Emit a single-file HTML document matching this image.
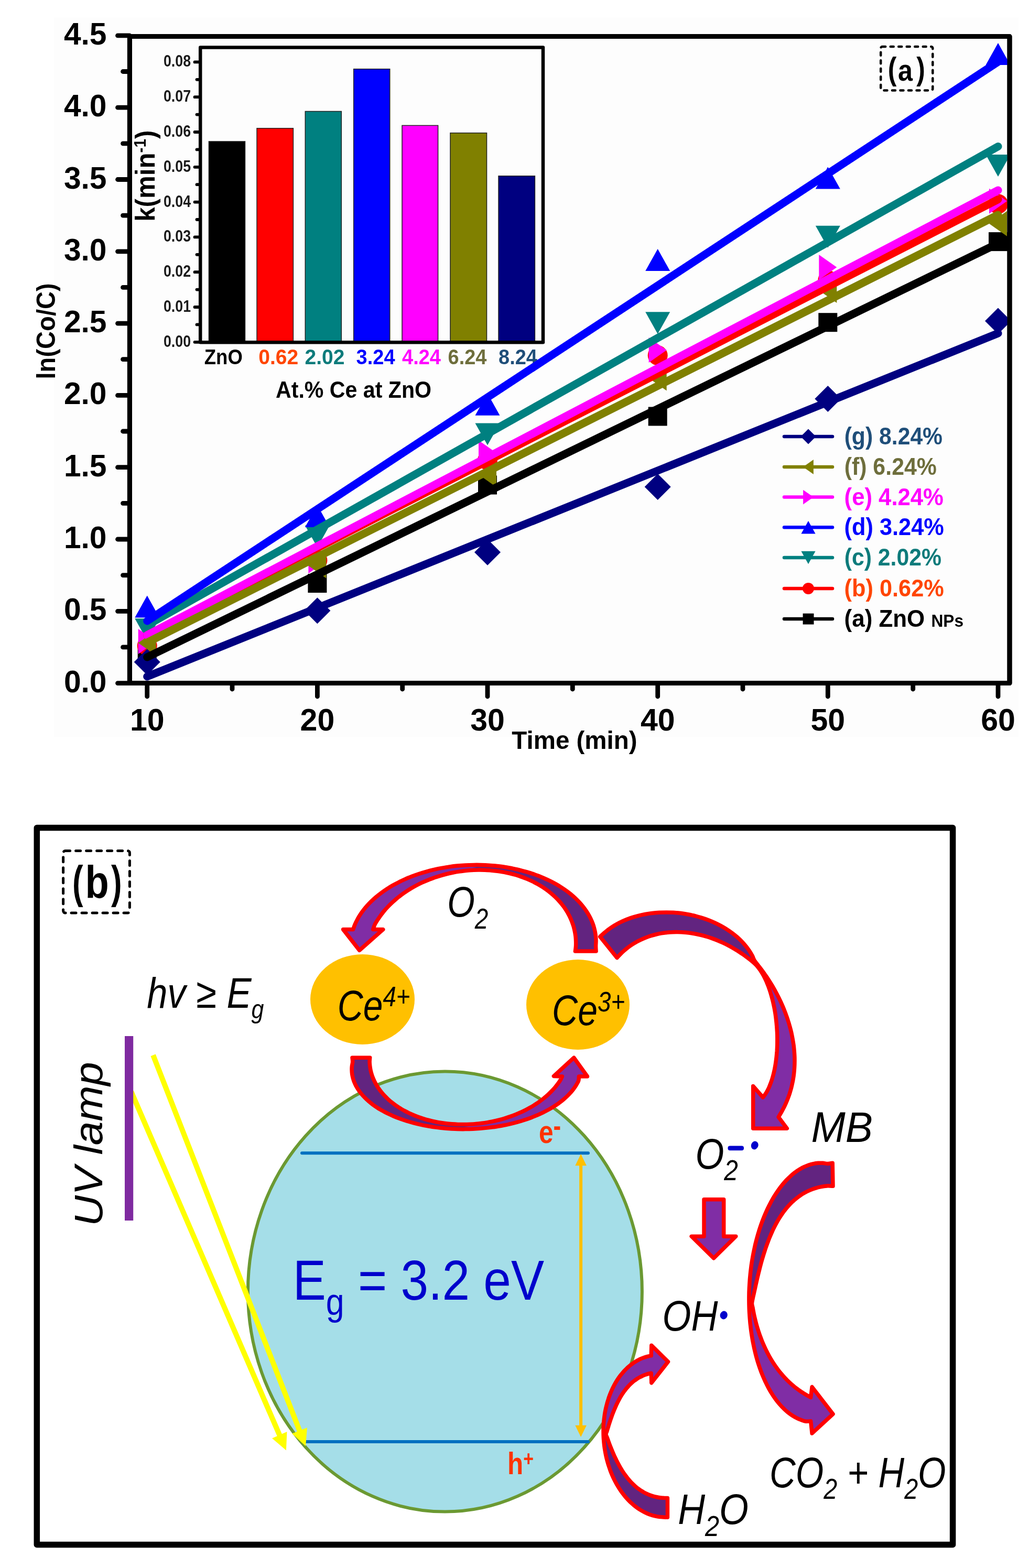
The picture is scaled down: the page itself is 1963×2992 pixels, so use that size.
<!DOCTYPE html>
<html><head><meta charset="utf-8"><title>Figure</title>
<style>html,body{margin:0;padding:0;background:#fff;}svg{display:block;}</style></head>
<body><svg xmlns="http://www.w3.org/2000/svg" width="1963" height="2992" viewBox="0 0 1963 2992">
<rect width="1963" height="2992" fill="#fff"/>
<rect x="103" y="33" width="1840" height="1373" fill="#fdfdfd"/>
<g stroke="#222" stroke-width="1.5">
<rect x="398.4" y="269.9" width="69.1" height="382.9" fill="#000000"/>
<rect x="490.0" y="244.8" width="69.4" height="408.0" fill="#ff0000"/>
<rect x="582.3" y="212.5" width="69.0" height="440.3" fill="#008080"/>
<rect x="674.7" y="131.7" width="69.0" height="521.1" fill="#0000ff"/>
<rect x="767.0" y="239.4" width="68.6" height="413.4" fill="#ff00ff"/>
<rect x="859.0" y="253.7" width="69.5" height="399.1" fill="#808000"/>
<rect x="951.0" y="335.8" width="69.4" height="317.0" fill="#000080"/>
</g>
<rect x="382.2" y="90.5" width="653.8" height="562.7" fill="none" stroke="#000" stroke-width="6.5" stroke-linejoin="round"/>
<path d="M382 652.8H371.5 M382 619.4H375.5 M382 586.0H371.5 M382 552.6H375.5 M382 519.2H371.5 M382 485.8H375.5 M382 452.4H371.5 M382 419.0H375.5 M382 385.6H371.5 M382 352.2H375.5 M382 318.8H371.5 M382 285.4H375.5 M382 252.0H371.5 M382 218.6H375.5 M382 185.2H371.5 M382 151.8H375.5 M382 118.4H371.5" stroke="#000" stroke-width="5.8" stroke-linecap="round"/>
<g font-family="'Liberation Sans', Arial, sans-serif" font-weight="bold" font-size="31" fill="#1a1a1a" text-anchor="end">
<text x="364" y="661.8" textLength="52" lengthAdjust="spacingAndGlyphs">0.00</text>
<text x="364" y="595.0" textLength="52" lengthAdjust="spacingAndGlyphs">0.01</text>
<text x="364" y="528.2" textLength="52" lengthAdjust="spacingAndGlyphs">0.02</text>
<text x="364" y="461.4" textLength="52" lengthAdjust="spacingAndGlyphs">0.03</text>
<text x="364" y="394.6" textLength="52" lengthAdjust="spacingAndGlyphs">0.04</text>
<text x="364" y="327.8" textLength="52" lengthAdjust="spacingAndGlyphs">0.05</text>
<text x="364" y="261.0" textLength="52" lengthAdjust="spacingAndGlyphs">0.06</text>
<text x="364" y="194.2" textLength="52" lengthAdjust="spacingAndGlyphs">0.07</text>
<text x="364" y="127.4" textLength="52" lengthAdjust="spacingAndGlyphs">0.08</text>
</g>
<text transform="translate(295.2,422.79) rotate(-90) scale(0.9472,1)" font-family="'Liberation Sans', Arial, sans-serif" font-weight="bold" fill="#000"><tspan font-size="52" dy="0">k(min</tspan><tspan font-size="31.5" dy="-17">-1</tspan><tspan font-size="52" dy="17">)</tspan></text>
<g font-family="'Liberation Sans', Arial, sans-serif" font-weight="bold" font-size="39.8">
<text x="389.8" y="694.5" fill="#000000" textLength="73" lengthAdjust="spacingAndGlyphs">ZnO</text>
<text x="493.3" y="694.5" fill="#ff4500" textLength="76" lengthAdjust="spacingAndGlyphs">0.62</text>
<text x="581.5" y="694.5" fill="#0e7b7b" textLength="76" lengthAdjust="spacingAndGlyphs">2.02</text>
<text x="679.6" y="694.5" fill="#0000ff" textLength="74" lengthAdjust="spacingAndGlyphs">3.24</text>
<text x="767" y="694.5" fill="#ff00ff" textLength="74" lengthAdjust="spacingAndGlyphs">4.24</text>
<text x="854.5" y="694.5" fill="#6e6e3c" textLength="74" lengthAdjust="spacingAndGlyphs">6.24</text>
<text x="951" y="694.5" fill="#1f4e79" textLength="74" lengthAdjust="spacingAndGlyphs">8.24</text>
</g>
<text x="526" y="759.4" font-family="'Liberation Sans', Arial, sans-serif" font-weight="bold" font-size="43.5" fill="#000" textLength="297" lengthAdjust="spacingAndGlyphs">At.% Ce at ZnO</text>
<path d="M247.4 69.6H1926V1303.6H247.4Z" fill="none" stroke="#000" stroke-width="9" stroke-linejoin="round"/>
<path d="M247 1303.6H224.5 M247 1234.9H234.5 M247 1166.3H224.5 M247 1097.6H234.5 M247 1029.0H224.5 M247 960.3H234.5 M247 891.7H224.5 M247 823.0H234.5 M247 754.4H224.5 M247 685.7H234.5 M247 617.1H224.5 M247 548.4H234.5 M247 479.8H224.5 M247 411.1H234.5 M247 342.5H224.5 M247 273.8H234.5 M247 205.2H224.5 M247 136.5H234.5 M247 67.9H224.5 M280.7 1303.6V1329 M443.0 1303.6V1315 M605.4 1303.6V1329 M767.7 1303.6V1315 M930.0 1303.6V1329 M1092.3 1303.6V1315 M1254.7 1303.6V1329 M1417.0 1303.6V1315 M1579.3 1303.6V1329 M1741.7 1303.6V1315 M1904.0 1303.6V1329" stroke="#000" stroke-width="8.8" stroke-linecap="round"/>
<g font-family="'Liberation Sans', Arial, sans-serif" font-weight="bold" font-size="58.7" text-anchor="end" fill="#000">
<text x="203.5" y="1320.6">0.0</text>
<text x="203.5" y="1183.3">0.5</text>
<text x="203.5" y="1046.0">1.0</text>
<text x="203.5" y="908.7">1.5</text>
<text x="203.5" y="771.4">2.0</text>
<text x="203.5" y="634.1">2.5</text>
<text x="203.5" y="496.8">3.0</text>
<text x="203.5" y="359.5">3.5</text>
<text x="203.5" y="222.2">4.0</text>
<text x="203.5" y="84.9">4.5</text>
</g>
<g font-family="'Liberation Sans', Arial, sans-serif" font-weight="bold" font-size="59" text-anchor="middle" fill="#000">
<text x="280.7" y="1394">10</text>
<text x="605.4" y="1394">20</text>
<text x="930.0" y="1394">30</text>
<text x="1254.7" y="1394">40</text>
<text x="1579.3" y="1394">50</text>
<text x="1904.0" y="1394">60</text>
</g>
<text transform="translate(104.6,723.49) rotate(-90) scale(0.9297,1)" font-family="'Liberation Sans', Arial, sans-serif" font-weight="bold" fill="#000"><tspan font-size="50.7" dy="0">ln(Co/C)</tspan></text>
<text x="1096" y="1429" font-family="'Liberation Sans', Arial, sans-serif" font-weight="bold" font-size="47.5" text-anchor="middle" fill="#000">Time (min)</text>
<rect x="1680.2" y="89" width="99.1" height="83.4" rx="3" fill="none" stroke="#000" stroke-width="4.5" stroke-dasharray="6 9.5" stroke-linecap="round"/>
<text transform="translate(1693.85,152.0) scale(0.8176,1)" font-family="'Liberation Sans', Arial, sans-serif" font-weight="bold" fill="#000"><tspan font-size="61" dy="0">(</tspan></text>
<text transform="translate(1712.96,153.5) scale(0.8677,1)" font-family="'Liberation Sans', Arial, sans-serif" font-weight="bold" fill="#000"><tspan font-size="58" dy="0">a</tspan></text>
<text transform="translate(1748.30,152.0) scale(0.8176,1)" font-family="'Liberation Sans', Arial, sans-serif" font-weight="bold" fill="#000"><tspan font-size="61" dy="0">)</tspan></text>
<defs><clipPath id="pc"><rect x="251" y="73.4" width="1671" height="1226"/></clipPath></defs>
<g clip-path="url(#pc)">
<rect x="262.7" y="1230.7" width="36.0" height="36.0" fill="#000000"/>
<rect x="587.4" y="1095.0" width="36.0" height="36.0" fill="#000000"/>
<rect x="912.0" y="907.5" width="36.0" height="36.0" fill="#000000"/>
<rect x="1236.7" y="776.5" width="36.0" height="36.0" fill="#000000"/>
<rect x="1561.3" y="597.2" width="36.0" height="36.0" fill="#000000"/>
<rect x="1886.0" y="443.1" width="36.0" height="36.0" fill="#000000"/>
<circle cx="280.7" cy="1232.2" r="19.0" fill="#ff0000"/>
<circle cx="605.4" cy="1069.1" r="19.0" fill="#ff0000"/>
<circle cx="930.0" cy="878.0" r="19.0" fill="#ff0000"/>
<circle cx="1254.7" cy="678.1" r="19.0" fill="#ff0000"/>
<circle cx="1579.3" cy="534.7" r="19.0" fill="#ff0000"/>
<circle cx="1904.0" cy="389.2" r="19.0" fill="#ff0000"/>
<polygon points="280.7,1222.2 304.2,1180.2 257.2,1180.2" fill="#008080"/>
<polygon points="605.4,1044.5 628.9,1002.5 581.9,1002.5" fill="#008080"/>
<polygon points="930.0,849.5 953.5,807.5 906.5,807.5" fill="#008080"/>
<polygon points="1254.7,637.3 1278.2,595.3 1231.2,595.3" fill="#008080"/>
<polygon points="1579.3,472.8 1602.8,430.8 1555.8,430.8" fill="#008080"/>
<polygon points="1904.0,336.9 1927.5,294.9 1880.5,294.9" fill="#008080"/>
<polygon points="280.7,1136.5 304.2,1178.5 257.2,1178.5" fill="#0000ff"/>
<polygon points="605.4,964.1 628.9,1006.1 581.9,1006.1" fill="#0000ff"/>
<polygon points="930.0,750.7 953.5,792.7 906.5,792.7" fill="#0000ff"/>
<polygon points="1254.7,475.0 1278.2,517.0 1231.2,517.0" fill="#0000ff"/>
<polygon points="1579.3,318.5 1602.8,360.5 1555.8,360.5" fill="#0000ff"/>
<polygon points="1904.0,82.0 1927.5,124.0 1880.5,124.0" fill="#0000ff"/>
<polygon points="297.7,1224.0 263.7,1200.0 263.7,1248.0" fill="#ff00ff"/>
<polygon points="622.4,1070.2 588.4,1046.2 588.4,1094.2" fill="#ff00ff"/>
<polygon points="947.0,864.2 913.0,840.2 913.0,888.2" fill="#ff00ff"/>
<polygon points="1271.7,667.9 1237.7,643.9 1237.7,691.9" fill="#ff00ff"/>
<polygon points="1596.3,510.0 1562.3,486.0 1562.3,534.0" fill="#ff00ff"/>
<polygon points="1921.0,383.7 1887.0,359.7 1887.0,407.7" fill="#ff00ff"/>
<polygon points="263.7,1226.7 297.7,1202.7 297.7,1250.7" fill="#808000"/>
<polygon points="588.4,1079.5 622.4,1055.5 622.4,1103.5" fill="#808000"/>
<polygon points="913.0,905.4 947.0,881.4 947.0,929.4" fill="#808000"/>
<polygon points="1237.7,721.4 1271.7,697.4 1271.7,745.4" fill="#808000"/>
<polygon points="1562.3,553.9 1596.3,529.9 1596.3,577.9" fill="#808000"/>
<polygon points="1887.0,426.8 1921.0,402.8 1921.0,450.8" fill="#808000"/>
<polygon points="280.7,1238.2 305.7,1263.2 280.7,1288.2 255.7,1263.2" fill="#000080"/>
<polygon points="605.4,1140.2 630.4,1165.2 605.4,1190.2 580.4,1165.2" fill="#000080"/>
<polygon points="930.0,1028.7 955.0,1053.7 930.0,1078.7 905.0,1053.7" fill="#000080"/>
<polygon points="1254.7,904.0 1279.7,929.0 1254.7,954.0 1229.7,929.0" fill="#000080"/>
<polygon points="1579.3,736.0 1604.3,761.0 1579.3,786.0 1554.3,761.0" fill="#000080"/>
<polygon points="1904.0,587.4 1929.0,612.4 1904.0,637.4 1879.0,612.4" fill="#000080"/>
<line x1="280.7" y1="1254.0" x2="1904" y2="464.5" stroke="#000000" stroke-width="15" stroke-linecap="round"/>
<line x1="280.7" y1="1212.0" x2="1904" y2="380.5" stroke="#ff0000" stroke-width="15" stroke-linecap="round"/>
<line x1="280.7" y1="1193.0" x2="1904" y2="279.5" stroke="#008080" stroke-width="15" stroke-linecap="round"/>
<line x1="280.7" y1="1185.0" x2="1904" y2="118.0" stroke="#0000ff" stroke-width="15" stroke-linecap="round"/>
<line x1="280.7" y1="1212.0" x2="1904" y2="363.0" stroke="#ff00ff" stroke-width="15" stroke-linecap="round"/>
<line x1="280.7" y1="1226.0" x2="1904" y2="410.0" stroke="#808000" stroke-width="15" stroke-linecap="round"/>
<line x1="280.7" y1="1291.0" x2="1904" y2="636.0" stroke="#000080" stroke-width="15" stroke-linecap="round"/>
</g>
<path d="M247.4 69.6H1926V1303.6H247.4Z" fill="none" stroke="#000" stroke-width="9" stroke-linejoin="round"/>
<line x1="1496" y1="833" x2="1588" y2="833" stroke="#000080" stroke-width="6.5" stroke-linecap="round"/>
<polygon points="1542.0,818.5 1556.5,833.0 1542.0,847.5 1527.5,833.0" fill="#000080"/>
<text transform="translate(1610.63,848) scale(0.9328,1)" font-family="'Liberation Sans', Arial, sans-serif" font-weight="bold" fill="#1f4e79"><tspan font-size="45.8" dy="0">(g) 8.24%</tspan></text>
<line x1="1496" y1="891" x2="1588" y2="891" stroke="#808000" stroke-width="6.5" stroke-linecap="round"/>
<polygon points="1532.1,891.0 1551.9,877.1 1551.9,904.9" fill="#808000"/>
<text transform="translate(1610.63,906) scale(0.9362,1)" font-family="'Liberation Sans', Arial, sans-serif" font-weight="bold" fill="#6e6e3c"><tspan font-size="45.8" dy="0">(f) 6.24%</tspan></text>
<line x1="1496" y1="948.6" x2="1588" y2="948.6" stroke="#ff00ff" stroke-width="6.5" stroke-linecap="round"/>
<polygon points="1551.9,948.6 1532.1,934.7 1532.1,962.5" fill="#ff00ff"/>
<text transform="translate(1610.59,963.6) scale(0.9538,1)" font-family="'Liberation Sans', Arial, sans-serif" font-weight="bold" fill="#ff00ff"><tspan font-size="45.8" dy="0">(e) 4.24%</tspan></text>
<line x1="1496" y1="1006.3" x2="1588" y2="1006.3" stroke="#0000ff" stroke-width="6.5" stroke-linecap="round"/>
<polygon points="1542.0,994.1 1555.6,1018.5 1528.4,1018.5" fill="#0000ff"/>
<text transform="translate(1610.61,1021.3) scale(0.9460,1)" font-family="'Liberation Sans', Arial, sans-serif" font-weight="bold" fill="#0000ff"><tspan font-size="45.8" dy="0">(d) 3.24%</tspan></text>
<line x1="1496" y1="1064" x2="1588" y2="1064" stroke="#008080" stroke-width="6.5" stroke-linecap="round"/>
<polygon points="1542.0,1076.2 1555.6,1051.8 1528.4,1051.8" fill="#008080"/>
<text transform="translate(1610.63,1079) scale(0.9344,1)" font-family="'Liberation Sans', Arial, sans-serif" font-weight="bold" fill="#0e7b7b"><tspan font-size="45.8" dy="0">(c) 2.02%</tspan></text>
<line x1="1496" y1="1122.9" x2="1588" y2="1122.9" stroke="#ff0000" stroke-width="6.5" stroke-linecap="round"/>
<circle cx="1542.0" cy="1122.9" r="11.0" fill="#ff0000"/>
<text transform="translate(1610.61,1137.9) scale(0.9460,1)" font-family="'Liberation Sans', Arial, sans-serif" font-weight="bold" fill="#ff4500"><tspan font-size="45.8" dy="0">(b) 0.62%</tspan></text>
<line x1="1496" y1="1181" x2="1588" y2="1181" stroke="#000000" stroke-width="6.5" stroke-linecap="round"/>
<rect x="1531.6" y="1170.6" width="20.9" height="20.9" fill="#000000"/>
<text transform="translate(1610.58,1196) scale(0.9594,1)" font-family="'Liberation Sans', Arial, sans-serif" font-weight="bold" fill="#000"><tspan font-size="45.8" dy="0">(a) ZnO </tspan><tspan font-size="33" dy="0">NPs</tspan></text>
<ellipse cx="848.9" cy="2464.6" rx="376" ry="420" fill="#a5dee8" stroke="#6b9932" stroke-width="6"/>
<line x1="576" y1="2200.3" x2="1122" y2="2200.3" stroke="#0070c0" stroke-width="6" stroke-linecap="round"/>
<line x1="582" y1="2751" x2="1122" y2="2751" stroke="#0070c0" stroke-width="6" stroke-linecap="round"/>
<line x1="1108.1" y1="2222" x2="1108.1" y2="2722" stroke="#ffc000" stroke-width="6"/>
<polygon points="1108.1,2202 1097.3,2224.2 1118.9,2224.2" fill="#ffc000"/>
<polygon points="1108.1,2742 1097.3,2719.8 1118.9,2719.8" fill="#ffc000"/>
<ellipse cx="691.5" cy="1907" rx="99.5" ry="86" fill="#ffc000"/>
<ellipse cx="1102.5" cy="1917" rx="98.5" ry="86" fill="#ffc000"/>
<line x1="292.1" y1="2013.4" x2="572.2" y2="2731.7" stroke="#ffff00" stroke-width="10"/><polygon points="583.1,2759.6 557.0,2735.4 585.9,2724.2" fill="#ffff00"/>
<line x1="250.3" y1="2083.0" x2="534.0" y2="2740.1" stroke="#ffff00" stroke-width="10"/><polygon points="545.9,2767.6 519.0,2744.4 547.4,2732.1" fill="#ffff00"/>
<rect x="238" y="1977" width="16.2" height="352" fill="#7f2aa0"/>
<rect x="120.6" y="1623.5" width="126.8" height="118.6" rx="4" fill="none" stroke="#000" stroke-width="5" stroke-dasharray="9 11" stroke-linecap="round"/>
<defs><linearGradient id="g1" gradientUnits="userSpaceOnUse" x1="860" y1="0" x2="950" y2="0"><stop offset="0" stop-color="#802da5"/><stop offset="0.45" stop-color="#802da5"/><stop offset="0.55" stop-color="#622480"/><stop offset="1" stop-color="#622480"/></linearGradient><linearGradient id="g2" gradientUnits="userSpaceOnUse" x1="850" y1="0" x2="930" y2="0"><stop offset="0" stop-color="#622480"/><stop offset="0.45" stop-color="#622480"/><stop offset="0.55" stop-color="#802da5"/><stop offset="1" stop-color="#802da5"/></linearGradient><linearGradient id="g3" gradientUnits="userSpaceOnUse" x1="1400" y1="1800" x2="1480" y2="1872"><stop offset="0" stop-color="#622480"/><stop offset="0.45" stop-color="#622480"/><stop offset="0.55" stop-color="#802da5"/><stop offset="1" stop-color="#802da5"/></linearGradient><linearGradient id="g4" gradientUnits="userSpaceOnUse" x1="0" y1="2455" x2="0" y2="2515"><stop offset="0" stop-color="#622480"/><stop offset="0.45" stop-color="#622480"/><stop offset="0.55" stop-color="#802da5"/><stop offset="1" stop-color="#802da5"/></linearGradient><linearGradient id="g5" gradientUnits="userSpaceOnUse" x1="0" y1="2710" x2="0" y2="2760"><stop offset="0" stop-color="#802da5"/><stop offset="0.45" stop-color="#802da5"/><stop offset="0.55" stop-color="#622480"/><stop offset="1" stop-color="#622480"/></linearGradient></defs>
<path fill="url(#g1)" stroke="#ff0000" stroke-width="7.5" stroke-linejoin="round" d="M1137.1 1815.1 C1137.0 1813.5 1136.6 1808.5 1136.6 1805.2 C1136.6 1802.0 1137.0 1798.7 1137.0 1795.5 C1137.0 1792.2 1136.8 1789.0 1136.4 1785.7 C1136.0 1782.5 1135.5 1779.3 1134.8 1776.1 C1134.1 1772.9 1133.3 1769.7 1132.3 1766.5 C1131.2 1763.3 1130.1 1760.2 1128.7 1757.1 C1127.4 1753.9 1125.9 1750.9 1124.2 1747.8 C1122.6 1744.8 1120.8 1741.8 1118.8 1738.8 C1116.8 1735.8 1114.7 1732.9 1112.4 1730.0 C1110.2 1727.1 1107.8 1724.3 1105.2 1721.5 C1102.6 1718.8 1099.9 1716.1 1097.1 1713.4 C1094.3 1710.8 1091.3 1708.2 1088.2 1705.6 C1085.1 1703.1 1081.8 1700.7 1078.4 1698.3 C1075.1 1695.9 1071.6 1693.6 1068.0 1691.3 C1064.4 1689.1 1060.6 1686.9 1056.8 1684.9 C1053.0 1682.8 1049.0 1680.8 1045.0 1678.9 C1040.9 1677.0 1036.8 1675.1 1032.6 1673.4 C1028.3 1671.7 1024.0 1670.0 1019.6 1668.5 C1015.2 1666.9 1010.7 1665.5 1006.1 1664.1 C1001.6 1662.7 996.9 1661.5 992.2 1660.3 C987.5 1659.1 982.7 1658.1 977.9 1657.1 C973.1 1656.1 968.2 1655.3 963.3 1654.5 C958.4 1653.7 953.4 1653.1 948.4 1652.5 C943.5 1652.0 938.4 1651.5 933.4 1651.2 C928.3 1650.8 923.3 1650.6 918.2 1650.5 C913.1 1650.3 908.0 1650.3 902.9 1650.4 C897.8 1650.5 892.8 1650.6 887.7 1650.9 C882.6 1651.2 877.5 1651.6 872.5 1652.1 C867.4 1652.6 862.4 1653.2 857.4 1653.9 C852.4 1654.6 847.5 1655.5 842.6 1656.4 C837.6 1657.3 832.8 1658.3 827.9 1659.4 C823.1 1660.5 818.4 1661.7 813.7 1663.1 C809.0 1664.4 804.3 1665.8 799.7 1667.3 C795.2 1668.8 790.7 1670.4 786.3 1672.1 C781.9 1673.8 777.5 1675.5 773.3 1677.4 C769.1 1679.3 764.9 1681.2 760.9 1683.3 C756.8 1685.3 752.9 1687.4 749.0 1689.6 C745.2 1691.8 741.5 1694.1 737.9 1696.4 C734.3 1698.8 730.8 1701.2 727.4 1703.7 C724.0 1706.2 720.8 1708.7 717.7 1711.4 C714.6 1714.0 711.6 1716.7 708.7 1719.4 C705.9 1722.2 703.2 1725.0 700.6 1727.8 C698.1 1730.6 695.6 1733.6 693.4 1736.5 C691.1 1739.4 689.0 1742.4 687.0 1745.5 C685.0 1748.5 683.2 1751.6 681.6 1754.7 C679.9 1757.8 678.4 1760.9 677.1 1764.0 C675.7 1767.2 674.2 1772.0 673.6 1773.6 L654.6 1773.6 L685.7 1813.4 L730.7 1773.6 L711.7 1773.6 C712.2 1772.1 713.6 1767.4 715.0 1764.3 C716.4 1761.3 718.4 1758.4 720.2 1755.5 C722.1 1752.6 724.0 1749.7 726.1 1746.9 C728.2 1744.1 730.3 1741.3 732.6 1738.5 C734.9 1735.8 737.3 1733.1 739.8 1730.5 C742.3 1727.8 744.9 1725.2 747.6 1722.7 C750.3 1720.2 753.1 1717.7 755.9 1715.3 C758.8 1712.9 761.8 1710.5 764.8 1708.2 C767.9 1705.9 771.0 1703.7 774.2 1701.6 C777.5 1699.4 780.8 1697.3 784.1 1695.3 C787.5 1693.3 790.9 1691.4 794.4 1689.5 C797.9 1687.7 801.5 1685.9 805.1 1684.2 C808.8 1682.5 812.5 1680.9 816.2 1679.4 C820.0 1677.9 823.8 1676.4 827.6 1675.1 C831.4 1673.7 835.3 1672.4 839.2 1671.3 C843.2 1670.1 847.1 1669.0 851.1 1668.0 C855.1 1667.0 859.1 1666.1 863.2 1665.3 C867.2 1664.5 871.3 1663.7 875.4 1663.1 C879.4 1662.5 883.5 1662.0 887.6 1661.5 C891.7 1661.1 895.9 1660.8 900.0 1660.5 C904.1 1660.3 908.2 1660.1 912.3 1660.1 C916.4 1660.0 920.5 1660.1 924.6 1660.2 C928.6 1660.4 932.7 1660.6 936.7 1660.9 C940.8 1661.3 944.8 1661.7 948.7 1662.2 C952.7 1662.8 956.7 1663.4 960.6 1664.1 C964.5 1664.8 968.4 1665.6 972.2 1666.5 C976.0 1667.4 979.8 1668.4 983.5 1669.5 C987.2 1670.6 990.9 1671.8 994.5 1673.1 C998.1 1674.3 1001.7 1675.7 1005.1 1677.1 C1008.6 1678.6 1012.0 1680.1 1015.4 1681.7 C1018.7 1683.3 1022.0 1685.0 1025.1 1686.8 C1028.3 1688.5 1031.4 1690.4 1034.5 1692.3 C1037.5 1694.2 1040.4 1696.2 1043.2 1698.3 C1046.1 1700.4 1048.8 1702.6 1051.5 1704.8 C1054.1 1707.0 1056.7 1709.3 1059.1 1711.6 C1061.6 1714.0 1063.9 1716.4 1066.2 1718.9 C1068.4 1721.3 1070.6 1723.9 1072.6 1726.5 C1074.6 1729.0 1076.6 1731.7 1078.4 1734.4 C1080.2 1737.1 1081.9 1739.8 1083.4 1742.6 C1085.0 1745.4 1086.5 1748.2 1087.8 1751.1 C1089.1 1753.9 1090.4 1756.9 1091.4 1759.8 C1092.5 1762.7 1093.5 1765.7 1094.4 1768.7 C1095.2 1771.7 1095.9 1774.7 1096.5 1777.8 C1097.1 1780.8 1097.6 1783.9 1098.0 1787.0 C1098.3 1790.1 1098.5 1793.2 1098.6 1796.3 C1098.7 1799.4 1098.7 1802.6 1098.5 1805.7 C1098.3 1808.8 1097.6 1813.5 1097.4 1815.1 Z"/>
<path fill="url(#g2)" stroke="#ff0000" stroke-width="7.5" stroke-linejoin="round" d="M672.0 2018.2 C672.1 2019.5 672.8 2023.6 672.7 2026.3 C672.6 2028.9 671.7 2031.5 671.4 2034.2 C671.1 2036.8 671.0 2039.4 671.1 2042.0 C671.1 2044.7 671.4 2047.3 671.7 2049.9 C672.1 2052.5 672.7 2055.1 673.4 2057.7 C674.1 2060.3 675.0 2062.9 676.0 2065.4 C677.1 2068.0 678.3 2070.5 679.6 2073.0 C681.0 2075.5 682.5 2078.0 684.2 2080.4 C685.9 2082.9 687.7 2085.3 689.7 2087.7 C691.6 2090.0 693.8 2092.4 696.1 2094.7 C698.3 2097.0 700.8 2099.2 703.3 2101.4 C705.9 2103.6 708.6 2105.8 711.4 2107.9 C714.3 2110.0 717.2 2112.0 720.3 2114.0 C723.4 2116.0 726.7 2117.9 730.0 2119.8 C733.4 2121.6 736.8 2123.5 740.4 2125.2 C744.0 2126.9 747.7 2128.6 751.5 2130.2 C755.3 2131.8 759.2 2133.4 763.2 2134.8 C767.2 2136.3 771.3 2137.7 775.5 2139.0 C779.7 2140.3 783.9 2141.5 788.3 2142.7 C792.6 2143.8 797.1 2144.9 801.5 2145.9 C806.0 2146.9 810.6 2147.8 815.2 2148.6 C819.8 2149.5 824.5 2150.2 829.2 2150.9 C833.9 2151.5 838.7 2152.1 843.5 2152.6 C848.3 2153.1 853.1 2153.5 858.0 2153.8 C862.8 2154.1 867.7 2154.3 872.6 2154.5 C877.5 2154.6 882.4 2154.7 887.3 2154.6 C892.2 2154.6 897.2 2154.5 902.1 2154.2 C907.0 2154.0 911.9 2153.7 916.7 2153.3 C921.6 2153.0 926.5 2152.5 931.3 2151.9 C936.1 2151.3 940.9 2150.7 945.7 2150.0 C950.4 2149.2 955.2 2148.4 959.8 2147.5 C964.5 2146.6 969.1 2145.6 973.6 2144.6 C978.2 2143.5 982.7 2142.3 987.1 2141.1 C991.5 2139.9 995.9 2138.6 1000.1 2137.2 C1004.4 2135.8 1008.5 2134.4 1012.6 2132.9 C1016.7 2131.3 1020.7 2129.7 1024.6 2128.1 C1028.5 2126.4 1032.3 2124.7 1036.0 2122.9 C1039.6 2121.1 1043.2 2119.2 1046.7 2117.3 C1050.1 2115.4 1053.5 2113.4 1056.7 2111.3 C1059.9 2109.3 1063.0 2107.2 1066.0 2105.1 C1068.9 2102.9 1071.7 2100.7 1074.4 2098.5 C1077.1 2096.2 1079.7 2093.9 1082.1 2091.6 C1084.5 2089.3 1086.7 2086.9 1088.9 2084.5 C1091.0 2082.1 1092.9 2079.7 1094.7 2077.2 C1096.6 2074.7 1098.2 2072.2 1099.7 2069.7 C1101.2 2067.2 1103.0 2064.6 1103.7 2062.0 C1104.5 2059.5 1104.3 2055.4 1104.4 2054.1 L1120.5 2054.0 L1094.8 2018.2 L1056.4 2053.4 L1072.4 2054.1 C1071.8 2055.4 1070.2 2059.2 1068.7 2061.6 C1067.2 2064.1 1065.4 2066.5 1063.6 2068.8 C1061.8 2071.2 1060.0 2073.6 1058.0 2075.9 C1056.0 2078.2 1053.9 2080.4 1051.7 2082.7 C1049.6 2084.9 1047.3 2087.1 1044.9 2089.2 C1042.6 2091.4 1040.1 2093.5 1037.6 2095.5 C1035.1 2097.6 1032.5 2099.6 1029.8 2101.5 C1027.1 2103.5 1024.3 2105.4 1021.4 2107.2 C1018.6 2109.1 1015.7 2110.8 1012.7 2112.6 C1009.7 2114.3 1006.6 2116.0 1003.5 2117.6 C1000.4 2119.2 997.2 2120.8 993.9 2122.2 C990.7 2123.7 987.3 2125.2 984.0 2126.5 C980.6 2127.9 977.2 2129.2 973.7 2130.4 C970.3 2131.6 966.8 2132.7 963.2 2133.8 C959.7 2134.9 956.1 2135.9 952.4 2136.9 C948.8 2137.8 945.2 2138.7 941.5 2139.4 C937.8 2140.2 934.1 2141.0 930.3 2141.6 C926.6 2142.2 922.8 2142.8 919.1 2143.3 C915.3 2143.8 911.5 2144.2 907.7 2144.5 C903.9 2144.9 900.1 2145.1 896.3 2145.3 C892.5 2145.5 888.7 2145.6 885.0 2145.6 C881.2 2145.6 877.4 2145.6 873.6 2145.4 C869.8 2145.3 866.1 2145.1 862.3 2144.8 C858.6 2144.5 854.9 2144.2 851.2 2143.7 C847.5 2143.3 843.8 2142.8 840.2 2142.2 C836.5 2141.6 832.9 2140.9 829.4 2140.2 C825.8 2139.4 822.3 2138.6 818.8 2137.7 C815.3 2136.8 811.9 2135.8 808.5 2134.8 C805.2 2133.8 801.8 2132.7 798.6 2131.5 C795.3 2130.3 792.1 2129.1 788.9 2127.7 C785.8 2126.4 782.7 2125.0 779.7 2123.6 C776.7 2122.1 773.7 2120.6 770.8 2119.1 C768.0 2117.5 765.2 2115.8 762.5 2114.2 C759.7 2112.5 757.1 2110.7 754.5 2108.9 C752.0 2107.1 749.5 2105.2 747.1 2103.3 C744.8 2101.4 742.5 2099.4 740.3 2097.4 C738.1 2095.4 736.0 2093.3 734.0 2091.2 C731.9 2089.1 730.0 2086.9 728.2 2084.7 C726.4 2082.5 724.7 2080.3 723.1 2078.0 C721.5 2075.7 719.9 2073.4 718.5 2071.0 C717.1 2068.7 715.8 2066.3 714.7 2063.9 C713.5 2061.5 712.4 2059.0 711.4 2056.5 C710.4 2054.1 709.6 2051.6 708.8 2049.1 C708.1 2046.5 707.4 2044.0 706.9 2041.5 C706.4 2038.9 706.0 2036.3 705.7 2033.8 C705.4 2031.2 705.1 2028.6 705.1 2026.0 C705.1 2023.4 705.6 2019.5 705.7 2018.2 Z"/>
<path fill="url(#g3)" stroke="#ff0000" stroke-width="7.5" stroke-linejoin="round" d="M1144.8 1787.3 C1146.2 1786.0 1150.2 1782.2 1153.0 1779.8 C1155.9 1777.4 1158.8 1775.0 1161.9 1772.7 C1165.0 1770.5 1168.3 1768.3 1171.7 1766.2 C1175.1 1764.2 1178.6 1762.3 1182.2 1760.4 C1185.9 1758.6 1189.6 1756.9 1193.5 1755.3 C1197.3 1753.7 1201.3 1752.3 1205.4 1750.9 C1209.4 1749.6 1213.6 1748.4 1217.8 1747.3 C1222.0 1746.2 1226.3 1745.3 1230.7 1744.5 C1235.0 1743.7 1239.5 1743.0 1243.9 1742.4 C1248.4 1741.9 1252.9 1741.5 1257.5 1741.2 C1262.0 1741.0 1266.6 1740.9 1271.2 1740.9 C1275.7 1740.9 1280.3 1741.0 1284.9 1741.3 C1289.5 1741.6 1294.1 1742.1 1298.7 1742.6 C1303.3 1743.2 1307.8 1743.9 1312.4 1744.7 C1316.9 1745.6 1321.4 1746.5 1325.8 1747.6 C1330.2 1748.8 1334.6 1750.0 1338.9 1751.4 C1343.2 1752.7 1347.5 1754.2 1351.7 1755.8 C1355.8 1757.4 1359.9 1759.2 1363.9 1761.0 C1367.9 1762.8 1371.8 1764.8 1375.6 1766.9 C1379.4 1769.0 1383.1 1771.1 1386.6 1773.4 C1390.2 1775.7 1393.6 1778.1 1396.9 1780.5 C1400.2 1783.0 1403.4 1785.6 1406.4 1788.2 C1409.4 1790.9 1412.3 1793.6 1415.0 1796.4 C1417.7 1799.2 1420.3 1802.1 1422.7 1805.1 C1425.1 1808.0 1427.3 1811.0 1429.4 1814.1 C1431.4 1817.1 1433.4 1820.2 1435.0 1823.4 C1436.7 1826.5 1437.5 1829.8 1439.4 1833.0 C1441.3 1836.2 1444.2 1839.2 1446.6 1842.4 C1449.0 1845.5 1451.5 1848.6 1453.8 1851.8 C1456.2 1854.9 1458.5 1858.2 1460.7 1861.5 C1463.0 1864.7 1465.2 1868.1 1467.4 1871.5 C1469.5 1874.8 1471.6 1878.2 1473.7 1881.7 C1475.7 1885.2 1477.7 1888.7 1479.6 1892.2 C1481.5 1895.7 1483.4 1899.3 1485.2 1902.9 C1487.0 1906.5 1488.7 1910.2 1490.4 1913.8 C1492.1 1917.5 1493.7 1921.2 1495.2 1924.9 C1496.7 1928.7 1498.2 1932.4 1499.5 1936.2 C1500.9 1940.0 1502.2 1943.8 1503.4 1947.6 C1504.7 1951.4 1505.8 1955.2 1506.8 1959.1 C1507.9 1962.9 1508.9 1966.8 1509.8 1970.7 C1510.6 1974.6 1511.4 1978.5 1512.1 1982.4 C1512.8 1986.3 1513.4 1990.2 1514.0 1994.1 C1514.5 1998.0 1514.9 2002.0 1515.2 2005.9 C1515.5 2009.8 1515.8 2013.8 1515.9 2017.7 C1516.0 2021.6 1516.0 2025.6 1515.9 2029.5 C1515.8 2033.4 1515.6 2037.3 1515.3 2041.2 C1515.0 2045.1 1514.6 2049.1 1514.1 2052.9 C1513.5 2056.8 1512.9 2060.7 1512.1 2064.6 C1511.3 2068.5 1510.5 2072.3 1509.5 2076.1 C1508.4 2080.0 1507.3 2083.8 1506.1 2087.6 C1504.8 2091.4 1503.4 2095.2 1501.9 2098.9 C1500.4 2102.6 1498.8 2106.4 1497.0 2110.1 C1495.2 2113.8 1493.2 2117.5 1491.3 2121.1 C1489.3 2124.6 1486.1 2129.8 1485.1 2131.6 L1501.3 2153.2 L1436.7 2153.2 L1436.7 2072.4 L1455.5 2094.0 C1456.2 2093.1 1458.3 2090.4 1459.6 2088.4 C1461.0 2086.4 1462.3 2084.3 1463.5 2082.0 C1464.7 2079.7 1465.9 2077.3 1467.1 2074.7 C1468.2 2072.1 1469.3 2069.4 1470.3 2066.6 C1471.4 2063.8 1472.4 2060.9 1473.3 2057.8 C1474.2 2054.8 1475.0 2051.6 1475.8 2048.4 C1476.6 2045.1 1477.4 2041.8 1478.0 2038.3 C1478.7 2034.9 1479.3 2031.3 1479.8 2027.7 C1480.3 2024.1 1480.8 2020.5 1481.2 2016.7 C1481.6 2013.0 1481.9 2009.2 1482.2 2005.3 C1482.4 2001.5 1482.6 1997.6 1482.7 1993.7 C1482.8 1989.8 1482.8 1985.8 1482.8 1981.8 C1482.8 1977.8 1482.7 1973.8 1482.5 1969.9 C1482.3 1965.9 1482.0 1961.9 1481.7 1957.9 C1481.4 1953.9 1481.0 1949.9 1480.5 1946.0 C1480.1 1942.0 1479.6 1938.1 1479.0 1934.2 C1478.4 1930.4 1477.7 1926.5 1477.0 1922.8 C1476.2 1919.0 1475.4 1915.2 1474.6 1911.6 C1473.7 1907.9 1472.8 1904.4 1471.8 1900.9 C1470.8 1897.4 1469.8 1893.9 1468.7 1890.6 C1467.6 1887.3 1466.5 1884.0 1465.3 1880.9 C1464.1 1877.8 1462.8 1874.8 1461.6 1871.9 C1460.3 1869.0 1458.9 1866.2 1457.6 1863.5 C1456.2 1860.9 1454.8 1858.4 1453.3 1856.0 C1451.8 1853.6 1450.4 1851.3 1448.8 1849.2 C1447.3 1847.1 1445.8 1845.2 1444.2 1843.4 C1442.6 1841.6 1441.8 1840.5 1439.4 1838.4 C1437.0 1836.3 1433.2 1833.1 1430.1 1830.6 C1426.9 1828.1 1423.6 1825.7 1420.4 1823.3 C1417.1 1821.0 1413.8 1818.7 1410.4 1816.5 C1407.1 1814.3 1403.7 1812.2 1400.2 1810.2 C1396.8 1808.2 1393.3 1806.2 1389.9 1804.4 C1386.4 1802.6 1382.8 1800.8 1379.3 1799.2 C1375.7 1797.5 1372.2 1796.0 1368.6 1794.5 C1365.0 1793.0 1361.4 1791.7 1357.8 1790.4 C1354.2 1789.1 1350.5 1788.0 1346.9 1786.9 C1343.3 1785.8 1339.6 1784.8 1336.0 1784.0 C1332.3 1783.1 1328.7 1782.3 1325.1 1781.7 C1321.4 1781.0 1317.8 1780.4 1314.2 1780.0 C1310.6 1779.5 1307.0 1779.2 1303.4 1778.9 C1299.8 1778.7 1296.2 1778.5 1292.7 1778.5 C1289.1 1778.4 1285.6 1778.5 1282.1 1778.7 C1278.6 1778.8 1275.1 1779.1 1271.7 1779.5 C1268.2 1779.9 1264.8 1780.3 1261.4 1780.9 C1258.1 1781.5 1254.8 1782.2 1251.5 1783.0 C1248.2 1783.8 1244.9 1784.7 1241.8 1785.6 C1238.6 1786.6 1235.4 1787.7 1232.3 1788.9 C1229.3 1790.1 1226.2 1791.4 1223.3 1792.8 C1220.3 1794.2 1217.4 1795.7 1214.5 1797.2 C1211.7 1798.8 1208.9 1800.5 1206.2 1802.2 C1203.5 1804.0 1200.8 1805.9 1198.2 1807.8 C1195.7 1809.8 1193.2 1811.8 1190.7 1813.9 C1188.3 1816.0 1186.0 1818.2 1183.7 1820.5 C1181.4 1822.8 1178.2 1826.4 1177.1 1827.6 Z"/>
<path fill="#802da5" stroke="#ff0000" stroke-width="7.5" stroke-linejoin="round" d="M1343 2288.8 H1380.7 V2359.2 H1403.8 L1361.5 2400.8 L1319.2 2359.2 H1343 Z"/>
<path fill="url(#g4)" stroke="#ff0000" stroke-width="7.5" stroke-linejoin="round" d="M1588.2 2219.2 C1586.6 2219.4 1581.9 2220.4 1578.9 2220.4 C1575.8 2220.4 1572.9 2219.5 1569.9 2219.3 C1566.9 2219.1 1563.9 2219.1 1560.9 2219.3 C1557.8 2219.6 1554.8 2220.0 1551.8 2220.6 C1548.8 2221.2 1545.8 2222.0 1542.8 2223.0 C1539.8 2224.1 1536.8 2225.3 1533.9 2226.7 C1530.9 2228.1 1528.0 2229.7 1525.0 2231.4 C1522.1 2233.2 1519.2 2235.2 1516.4 2237.3 C1513.5 2239.5 1510.7 2241.8 1507.9 2244.4 C1505.2 2246.9 1502.4 2249.6 1499.8 2252.4 C1497.1 2255.3 1494.4 2258.4 1491.8 2261.6 C1489.3 2264.8 1486.7 2268.1 1484.3 2271.7 C1481.8 2275.2 1479.4 2278.9 1477.0 2282.7 C1474.7 2286.6 1472.4 2290.5 1470.2 2294.7 C1468.0 2298.8 1465.9 2303.0 1463.8 2307.4 C1461.8 2311.8 1459.8 2316.3 1457.9 2321.0 C1456.0 2325.6 1454.2 2330.4 1452.4 2335.2 C1450.7 2340.1 1449.0 2345.0 1447.5 2350.1 C1445.9 2355.1 1444.5 2360.3 1443.1 2365.5 C1441.7 2370.7 1440.4 2376.1 1439.3 2381.4 C1438.1 2386.8 1437.0 2392.3 1436.0 2397.8 C1435.0 2403.3 1434.1 2408.8 1433.3 2414.4 C1432.6 2420.0 1431.9 2425.7 1431.3 2431.3 C1430.7 2437.0 1430.2 2442.7 1429.9 2448.4 C1429.5 2454.1 1429.2 2459.9 1429.0 2465.6 C1428.9 2471.3 1428.8 2477.1 1428.9 2482.8 C1428.9 2488.5 1429.1 2494.2 1429.3 2499.9 C1429.6 2505.5 1429.9 2511.2 1430.4 2516.8 C1430.8 2522.4 1431.4 2528.0 1432.1 2533.5 C1432.7 2539.0 1433.5 2544.5 1434.4 2549.9 C1435.2 2555.3 1436.2 2560.6 1437.3 2565.8 C1438.3 2571.1 1439.5 2576.3 1440.8 2581.3 C1442.0 2586.4 1443.4 2591.4 1444.8 2596.3 C1446.3 2601.1 1447.8 2605.9 1449.5 2610.6 C1451.1 2615.2 1452.8 2619.8 1454.6 2624.2 C1456.4 2628.6 1458.3 2632.9 1460.3 2637.0 C1462.2 2641.2 1464.3 2645.2 1466.4 2649.1 C1468.5 2652.9 1470.7 2656.6 1473.0 2660.2 C1475.2 2663.8 1477.6 2667.2 1480.0 2670.4 C1482.4 2673.7 1484.8 2676.7 1487.3 2679.6 C1489.9 2682.6 1492.4 2685.3 1495.1 2687.8 C1497.7 2690.4 1500.4 2692.8 1503.1 2695.0 C1505.8 2697.2 1508.6 2699.2 1511.4 2701.0 C1514.2 2702.8 1517.1 2704.5 1519.9 2705.9 C1522.8 2707.3 1525.7 2708.6 1528.7 2709.6 C1531.6 2710.7 1534.5 2711.9 1537.5 2712.2 C1540.5 2712.6 1545.1 2711.8 1546.6 2711.7 L1549.1 2735.0 L1589.1 2698.2 L1549.1 2646.5 L1546.6 2666.5 C1545.4 2665.8 1541.9 2663.8 1539.5 2662.5 C1537.1 2661.1 1534.7 2659.7 1532.4 2658.2 C1530.0 2656.7 1527.7 2655.2 1525.5 2653.6 C1523.3 2652.1 1521.1 2650.5 1518.9 2648.8 C1516.8 2647.1 1514.6 2645.4 1512.6 2643.7 C1510.5 2641.9 1508.5 2640.1 1506.5 2638.3 C1504.5 2636.5 1502.6 2634.6 1500.7 2632.7 C1498.8 2630.7 1497.0 2628.8 1495.2 2626.8 C1493.4 2624.8 1491.6 2622.8 1489.9 2620.7 C1488.2 2618.6 1486.5 2616.5 1484.9 2614.4 C1483.2 2612.2 1481.6 2610.1 1480.1 2607.9 C1478.5 2605.7 1477.0 2603.4 1475.5 2601.2 C1474.1 2598.9 1472.6 2596.6 1471.2 2594.3 C1469.9 2592.0 1468.5 2589.6 1467.2 2587.3 C1465.9 2584.9 1464.6 2582.5 1463.4 2580.1 C1462.1 2577.7 1460.9 2575.2 1459.8 2572.8 C1458.6 2570.3 1457.5 2567.8 1456.4 2565.3 C1455.3 2562.8 1454.3 2560.3 1453.3 2557.8 C1452.3 2555.2 1451.3 2552.7 1450.4 2550.1 C1449.4 2547.6 1448.5 2545.0 1447.7 2542.4 C1446.8 2539.8 1446.0 2537.2 1445.2 2534.6 C1444.4 2532.0 1443.6 2529.4 1442.9 2526.7 C1442.2 2524.1 1441.5 2521.5 1440.9 2518.8 C1440.2 2516.2 1439.6 2513.5 1439.0 2510.9 C1438.4 2508.2 1437.9 2505.6 1437.4 2502.9 C1436.9 2500.3 1436.4 2497.6 1435.9 2495.0 C1435.5 2492.3 1434.4 2490.1 1434.5 2487.0 C1434.6 2483.9 1435.7 2479.8 1436.4 2476.3 C1437.1 2472.9 1437.9 2469.7 1438.6 2466.4 C1439.3 2463.0 1440.1 2459.6 1440.9 2456.1 C1441.6 2452.6 1442.4 2449.1 1443.2 2445.6 C1444.0 2442.0 1444.9 2438.4 1445.7 2434.8 C1446.6 2431.2 1447.5 2427.6 1448.4 2424.0 C1449.3 2420.3 1450.2 2416.6 1451.2 2413.0 C1452.2 2409.3 1453.2 2405.6 1454.3 2402.0 C1455.4 2398.3 1456.5 2394.7 1457.6 2391.0 C1458.8 2387.4 1459.9 2383.7 1461.2 2380.1 C1462.4 2376.5 1463.7 2372.9 1465.1 2369.3 C1466.4 2365.8 1467.8 2362.2 1469.3 2358.8 C1470.7 2355.3 1472.3 2351.8 1473.8 2348.4 C1475.4 2345.0 1477.1 2341.7 1478.8 2338.4 C1480.5 2335.1 1482.3 2331.9 1484.1 2328.7 C1486.0 2325.5 1487.9 2322.4 1489.9 2319.4 C1492.0 2316.4 1494.0 2313.5 1496.2 2310.6 C1498.4 2307.8 1500.6 2305.0 1503.0 2302.3 C1505.3 2299.7 1507.7 2297.1 1510.2 2294.6 C1512.8 2292.2 1515.4 2289.8 1518.1 2287.6 C1520.8 2285.4 1523.5 2283.3 1526.4 2281.3 C1529.3 2279.3 1532.3 2277.5 1535.4 2275.8 C1538.5 2274.1 1541.7 2272.5 1545.0 2271.1 C1548.3 2269.7 1551.7 2268.4 1555.2 2267.4 C1558.7 2266.3 1562.3 2265.3 1566.0 2264.6 C1569.8 2263.8 1573.8 2263.1 1577.6 2262.9 C1581.4 2262.7 1587.1 2263.2 1589.0 2263.3 Z"/>
<path fill="url(#g5)" stroke="#ff0000" stroke-width="7.5" stroke-linejoin="round" d="M1273.4 2895.3 C1272.2 2895.2 1268.6 2895.0 1266.2 2894.9 C1263.7 2894.7 1261.3 2894.7 1258.9 2894.4 C1256.5 2894.2 1254.1 2893.8 1251.7 2893.3 C1249.3 2892.9 1247.0 2892.3 1244.6 2891.6 C1242.2 2890.9 1239.8 2890.1 1237.5 2889.2 C1235.1 2888.3 1232.8 2887.2 1230.5 2886.1 C1228.2 2885.0 1225.9 2883.8 1223.6 2882.4 C1221.4 2881.1 1219.1 2879.7 1216.9 2878.2 C1214.7 2876.6 1212.6 2875.0 1210.4 2873.3 C1208.3 2871.6 1206.2 2869.7 1204.1 2867.8 C1202.1 2865.9 1200.1 2863.9 1198.1 2861.8 C1196.1 2859.7 1194.2 2857.6 1192.3 2855.3 C1190.4 2853.1 1188.6 2850.7 1186.8 2848.3 C1185.0 2845.9 1183.3 2843.4 1181.7 2840.8 C1180.0 2838.3 1178.4 2835.6 1176.8 2832.9 C1175.3 2830.2 1173.8 2827.4 1172.4 2824.6 C1171.0 2821.8 1169.6 2818.9 1168.3 2815.9 C1167.0 2813.0 1165.8 2810.0 1164.6 2807.0 C1163.5 2803.9 1162.4 2800.8 1161.4 2797.7 C1160.3 2794.5 1159.4 2791.4 1158.5 2788.1 C1157.6 2784.9 1156.8 2781.7 1156.1 2778.4 C1155.4 2775.1 1154.7 2771.8 1154.2 2768.5 C1153.6 2765.2 1153.1 2761.9 1152.7 2758.5 C1152.3 2755.2 1151.9 2751.8 1151.7 2748.4 C1151.4 2745.0 1151.2 2741.7 1151.1 2738.3 C1151.0 2734.9 1151.0 2731.5 1151.0 2728.2 C1151.1 2724.8 1151.2 2721.4 1151.4 2718.1 C1151.6 2714.8 1151.9 2711.4 1152.3 2708.1 C1152.7 2704.8 1153.1 2701.6 1153.6 2698.3 C1154.1 2695.1 1154.7 2691.8 1155.4 2688.7 C1156.1 2685.5 1156.8 2682.3 1157.7 2679.2 C1158.5 2676.1 1159.4 2673.1 1160.4 2670.1 C1161.3 2667.1 1162.4 2664.1 1163.5 2661.2 C1164.6 2658.3 1165.8 2655.4 1167.0 2652.7 C1168.3 2649.9 1169.6 2647.2 1171.0 2644.5 C1172.4 2641.9 1173.8 2639.3 1175.3 2636.8 C1176.8 2634.3 1178.4 2631.8 1180.0 2629.5 C1181.6 2627.1 1183.3 2624.9 1185.1 2622.7 C1186.8 2620.5 1188.6 2618.4 1190.4 2616.4 C1192.3 2614.4 1194.2 2612.4 1196.1 2610.6 C1198.1 2608.8 1200.1 2607.0 1202.1 2605.4 C1204.1 2603.7 1206.2 2602.2 1208.3 2600.8 C1210.4 2599.3 1212.6 2598.0 1214.7 2596.7 C1216.9 2595.5 1219.1 2594.3 1221.4 2593.3 C1223.6 2592.3 1225.9 2591.3 1228.2 2590.5 C1230.5 2589.7 1232.8 2589.0 1235.1 2588.4 C1237.5 2587.8 1241.0 2587.1 1242.2 2586.9 L1242.8 2567.3 L1274.5 2598.4 L1242.8 2638.8 L1242.2 2620.3 C1241.2 2620.5 1238.4 2621.0 1236.5 2621.5 C1234.6 2622.0 1232.7 2622.7 1230.9 2623.3 C1229.0 2624.0 1227.3 2624.7 1225.5 2625.5 C1223.8 2626.3 1222.1 2627.1 1220.4 2628.0 C1218.8 2628.9 1217.2 2629.8 1215.6 2630.8 C1214.1 2631.8 1212.5 2632.9 1211.1 2634.0 C1209.6 2635.1 1208.1 2636.2 1206.7 2637.4 C1205.3 2638.6 1204.0 2639.9 1202.6 2641.1 C1201.3 2642.4 1200.0 2643.7 1198.8 2645.1 C1197.5 2646.5 1196.3 2647.9 1195.1 2649.3 C1193.9 2650.7 1192.8 2652.2 1191.7 2653.7 C1190.5 2655.2 1189.5 2656.7 1188.4 2658.3 C1187.3 2659.8 1186.3 2661.4 1185.3 2663.0 C1184.3 2664.6 1183.4 2666.3 1182.4 2667.9 C1181.5 2669.6 1180.6 2671.3 1179.7 2673.0 C1178.8 2674.7 1177.9 2676.4 1177.1 2678.2 C1176.3 2679.9 1175.5 2681.6 1174.7 2683.4 C1173.9 2685.2 1173.1 2687.0 1172.4 2688.7 C1171.6 2690.5 1170.9 2692.3 1170.2 2694.1 C1169.5 2695.9 1168.8 2697.7 1168.1 2699.5 C1167.4 2701.4 1166.8 2703.2 1166.2 2705.0 C1165.5 2706.8 1164.9 2708.6 1164.3 2710.4 C1163.7 2712.2 1163.1 2714.0 1162.5 2715.8 C1161.9 2717.6 1161.4 2719.4 1160.8 2721.2 C1160.3 2723.0 1159.7 2724.8 1159.2 2726.5 C1158.7 2728.3 1158.2 2730.0 1157.6 2731.8 C1157.1 2733.5 1155.9 2735.1 1156.0 2737.0 C1156.1 2738.9 1157.5 2741.2 1158.3 2743.3 C1159.0 2745.3 1159.7 2747.3 1160.5 2749.4 C1161.2 2751.4 1162.0 2753.5 1162.7 2755.6 C1163.5 2757.7 1164.3 2759.7 1165.1 2761.8 C1166.0 2763.9 1166.8 2766.0 1167.7 2768.1 C1168.6 2770.2 1169.4 2772.3 1170.4 2774.4 C1171.3 2776.5 1172.2 2778.6 1173.2 2780.7 C1174.2 2782.7 1175.2 2784.8 1176.2 2786.9 C1177.2 2788.9 1178.3 2791.0 1179.4 2793.0 C1180.4 2795.0 1181.5 2797.0 1182.7 2799.0 C1183.8 2801.0 1185.0 2802.9 1186.2 2804.9 C1187.4 2806.8 1188.6 2808.7 1189.9 2810.6 C1191.2 2812.4 1192.5 2814.3 1193.8 2816.1 C1195.2 2817.9 1196.5 2819.7 1197.9 2821.4 C1199.3 2823.1 1200.8 2824.8 1202.3 2826.5 C1203.8 2828.1 1205.3 2829.7 1206.8 2831.2 C1208.4 2832.8 1210.0 2834.3 1211.6 2835.7 C1213.3 2837.2 1214.9 2838.6 1216.6 2839.9 C1218.4 2841.2 1220.1 2842.5 1221.9 2843.7 C1223.7 2844.9 1225.6 2846.1 1227.5 2847.1 C1229.3 2848.2 1231.3 2849.2 1233.3 2850.2 C1235.2 2851.1 1237.3 2852.0 1239.3 2852.8 C1241.4 2853.6 1243.5 2854.3 1245.7 2854.9 C1247.8 2855.5 1250.1 2856.1 1252.3 2856.5 C1254.6 2857.0 1256.9 2857.4 1259.3 2857.7 C1261.6 2858.0 1264.1 2858.1 1266.5 2858.3 C1268.9 2858.4 1272.2 2858.4 1273.4 2858.4 Z"/>
<rect x="1388.5" y="2186.5" width="30.5" height="8.8" rx="4" fill="#0000cc"/>
<ellipse cx="1439.7" cy="2185.5" rx="6.8" ry="8" transform="rotate(20 1439.7 2185.5)" fill="#0000cc"/>
<ellipse cx="1380.7" cy="2509.5" rx="7" ry="8" transform="rotate(20 1380.7 2509.5)" fill="#0000cc"/>
<text transform="translate(280.13,1922.5) scale(0.8706,1)" font-family="'Liberation Sans', Arial, sans-serif" font-style="italic" fill="#000"><tspan font-size="81" dy="0">hv ≥ E</tspan><tspan font-size="49.3" dy="20">g</tspan></text>
<text transform="translate(643.86,1947.0) scale(0.8362,1)" font-family="'Liberation Sans', Arial, sans-serif" font-style="italic" fill="#000"><tspan font-size="81" dy="0">Ce</tspan><tspan font-size="54.5" dy="-27">4+</tspan></text>
<text transform="translate(1053.04,1955.5) scale(0.8394,1)" font-family="'Liberation Sans', Arial, sans-serif" font-style="italic" fill="#000"><tspan font-size="81" dy="0">Ce</tspan><tspan font-size="54.5" dy="-26">3+</tspan></text>
<text transform="translate(853.26,1749.0) scale(0.8348,1)" font-family="'Liberation Sans', Arial, sans-serif" font-style="italic" fill="#000"><tspan font-size="81" dy="0">O</tspan><tspan font-size="55" dy="22.6">2</tspan></text>
<text transform="translate(1326.42,2229.5) scale(0.8708,1)" font-family="'Liberation Sans', Arial, sans-serif" font-style="italic" fill="#000"><tspan font-size="81" dy="0">O</tspan><tspan font-size="55" dy="22.7">2</tspan></text>
<text transform="translate(1547.56,2179.0) scale(0.9675,1)" font-family="'Liberation Sans', Arial, sans-serif" font-style="italic" fill="#000"><tspan font-size="81" dy="0">MB</tspan></text>
<text transform="translate(1263.52,2539.0) scale(0.8712,1)" font-family="'Liberation Sans', Arial, sans-serif" font-style="italic" fill="#000"><tspan font-size="81" dy="0">OH</tspan></text>
<text transform="translate(1293.13,2908.0) scale(0.8865,1)" font-family="'Liberation Sans', Arial, sans-serif" font-style="italic" fill="#000"><tspan font-size="81" dy="0">H</tspan><tspan font-size="55" dy="22.5">2</tspan><tspan font-size="81" dy="-22.5">O</tspan></text>
<text transform="translate(1468.11,2838.0) scale(0.8487,1)" font-family="'Liberation Sans', Arial, sans-serif" font-style="italic" fill="#000"><tspan font-size="81" dy="0">CO</tspan><tspan font-size="55" dy="22">2</tspan><tspan font-size="81" dy="-22"> + H</tspan><tspan font-size="55" dy="22">2</tspan><tspan font-size="81" dy="-22">O</tspan></text>
<text transform="translate(558.71,2479.5) scale(0.8762,1)" font-family="'Liberation Sans', Arial, sans-serif"  fill="#0000cc"><tspan font-size="108" dy="0">E</tspan><tspan font-size="71.6" dy="29">g</tspan><tspan font-size="108" dy="-29"> = 3.2 eV</tspan></text>
<text transform="translate(1028.00,2181.0) scale(0.8000,1)" font-family="'Liberation Sans', Arial, sans-serif" font-weight="bold" fill="#ff3300"><tspan font-size="62" dy="0">e</tspan><tspan font-size="55" dy="-14.5">-</tspan></text>
<text transform="translate(967.98,2812.5) scale(0.8291,1)" font-family="'Liberation Sans', Arial, sans-serif" font-weight="bold" fill="#ff3300"><tspan font-size="59.6" dy="0">h</tspan><tspan font-size="41" dy="-16">+</tspan></text>
<text transform="translate(137.97,1713.0) scale(0.7080,1)" font-family="'Liberation Sans', Arial, sans-serif" font-weight="bold" fill="#000"><tspan font-size="87" dy="0">(</tspan></text>
<text transform="translate(162.60,1713.0) scale(0.8500,1)" font-family="'Liberation Sans', Arial, sans-serif" font-weight="bold" fill="#000"><tspan font-size="87" dy="0">b</tspan></text>
<text transform="translate(211.90,1713.0) scale(0.7080,1)" font-family="'Liberation Sans', Arial, sans-serif" font-weight="bold" fill="#000"><tspan font-size="87" dy="0">)</tspan></text>
<text transform="translate(194.5,2339.96) rotate(-90) scale(1.0770,1)" font-family="'Liberation Sans', Arial, sans-serif" font-style="italic" fill="#000"><tspan font-size="76" dy="0">UV lamp</tspan></text>
<rect x="70.3" y="1579.5" width="1747.3" height="1368" fill="none" stroke="#000" stroke-width="11.5" stroke-linejoin="round"/>
</svg></body></html>
